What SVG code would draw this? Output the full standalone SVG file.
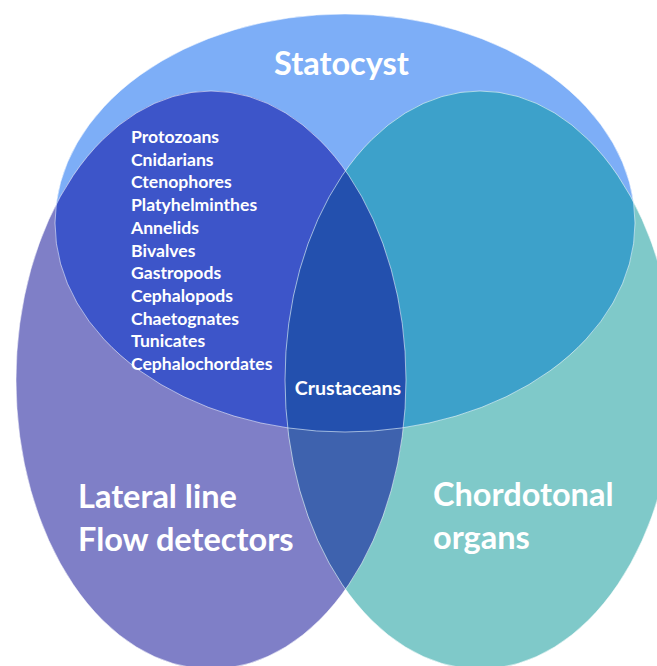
<svg xmlns="http://www.w3.org/2000/svg" width="657" height="666" viewBox="0 0 657 666">
<defs>
<style>
.t{font-family:Lato,"Liberation Sans",sans-serif;font-weight:bold;fill:#fff}
.big{font-size:32.5px}
.sm{font-size:17.6px}
.md{font-size:19.6px}
.edge{fill:none;stroke:#fff;stroke-opacity:0.55;stroke-width:1}
</style>
<clipPath id="clipS"><ellipse cx="345" cy="223" rx="290" ry="209"/></clipPath>
<clipPath id="clipL"><ellipse cx="211" cy="380" rx="195" ry="289"/></clipPath>
</defs>
<rect width="657" height="666" fill="#fff"/>
<g id="statocyst">
<ellipse cx="345" cy="223" rx="290" ry="209" fill="#7DAEF7"/>
</g>
<g id="lateral-line">
<ellipse cx="211" cy="380" rx="195" ry="289" fill="#7F7FC7"/>
</g>
<g id="chordotonal">
<ellipse cx="480" cy="380" rx="195" ry="289" fill="#7FC9C9"/>
</g>
<g id="overlaps">
<ellipse cx="480" cy="380" rx="195" ry="289" fill="#3E62AE" clip-path="url(#clipL)"/>
<ellipse cx="211" cy="380" rx="195" ry="289" fill="#3D55C9" clip-path="url(#clipS)"/>
<ellipse cx="480" cy="380" rx="195" ry="289" fill="#3DA1CA" clip-path="url(#clipS)"/>
<g clip-path="url(#clipS)">
<ellipse cx="480" cy="380" rx="195" ry="289" fill="#2350AE" clip-path="url(#clipL)"/>
</g>
</g>
<g id="outlines">
<ellipse class="edge" cx="345" cy="223" rx="290" ry="209"/>
<ellipse class="edge" cx="211" cy="380" rx="195" ry="289"/>
<ellipse class="edge" cx="480" cy="380" rx="195" ry="289"/>
</g>
<g id="labels">
<text class="t big" x="341.5" y="75" text-anchor="middle">Statocyst</text>
<text class="t sm" x="131">
<tspan x="131" y="143">Protozoans</tspan>
<tspan x="131" y="165.7">Cnidarians</tspan>
<tspan x="131" y="188.4">Ctenophores</tspan>
<tspan x="131" y="211.1">Platyhelminthes</tspan>
<tspan x="131" y="233.8">Annelids</tspan>
<tspan x="131" y="256.5">Bivalves</tspan>
<tspan x="131" y="279.2">Gastropods</tspan>
<tspan x="131" y="301.9">Cephalopods</tspan>
<tspan x="131" y="324.6">Chaetognates</tspan>
<tspan x="131" y="347.3">Tunicates</tspan>
<tspan x="131" y="370">Cephalochordates</tspan>
</text>
<text class="t md" x="348" y="394.5" text-anchor="middle">Crustaceans</text>
<text class="t big" x="78" y="508">Lateral line</text>
<text class="t big" x="78" y="551">Flow detectors</text>
<text class="t big" x="433" y="506">Chordotonal</text>
<text class="t big" x="433" y="549">organs</text>
</g>
</svg>
